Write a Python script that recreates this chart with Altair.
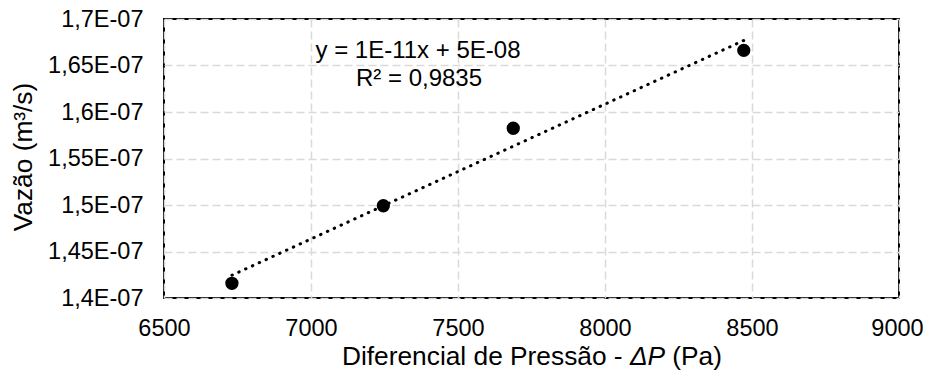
import altair as alt
import pandas as pd

# Data
pressao = [6731, 7246, 7688, 8472]              # ΔP (Pa)
vazao = [1.4158e-07, 1.4992e-07, 1.5825e-07, 1.6663e-07]  # m³/s

x_ticks = [6500, 7000, 7500, 8000, 8500, 9000]
y_ticks = [1.40e-07, 1.45e-07, 1.50e-07, 1.55e-07, 1.60e-07, 1.65e-07, 1.70e-07]
y_tick_labels = ["1,4E-07", "1,45E-07", "1,5E-07", "1,55E-07", "1,6E-07", "1,65E-07", "1,7E-07"]

eq_text = ["y = 1E-11x + 5E-08", "R² = 0,9835"]
x_title_parts = ["Diferencial de Pressão -", "ΔP", "(Pa)"]
y_title = "Vazão (m³/s)"

df = pd.DataFrame({"x": pressao, "y": vazao})

FONT = "Liberation Sans"
TICK_FS = 23.5
TITLE_FS = 26.3

label_expr = " : ".join(
    [f"abs(datum.value - {v}) < 1e-12 ? '{l}'" for v, l in zip(y_ticks, y_tick_labels)]
) + " : ''"

xscale = alt.Scale(domain=[6500, 9000], nice=False, zero=False)
yscale = alt.Scale(domain=[1.4e-07, 1.7e-07], nice=False, zero=False)

xaxis = alt.Axis(
    values=x_ticks, title=None, format="d",
    labelFontSize=TICK_FS, labelFont=FONT, labelColor="black",
    labelBaseline="alphabetic", labelPadding=37, ticks=False, tickSize=0, domain=False,
    labelOffset={"condition": {"test": "datum.value == 9000", "value": -2}, "value": 0},
    grid=True, gridColor="#d9d9d9", gridDash=[8, 4], gridWidth=1.5,
    labelFlush=False, labelOverlap=False,
)
yaxis = alt.Axis(
    values=y_ticks, title=y_title, labelExpr=label_expr,
    titleFontSize=TITLE_FS, titleFontWeight="normal", titleFont=FONT, titleColor="black",
    titleX=-141, titleY=137.5, titleAngle=-90, titleAlign="center", titleBaseline="middle",
    titleAnchor="start",
    labelFontSize=TICK_FS, labelFont=FONT, labelColor="black", labelBaseline="middle",
    labelPadding=21, ticks=False, tickSize=0, domain=False,
    grid=True, gridColor="#d9d9d9", gridDash=[8, 4], gridWidth=1.5,
    labelFlush=False, labelOverlap=False,
)

base = alt.Chart(df)

points = base.mark_circle(size=177, color="black", opacity=1).encode(
    x=alt.X("x:Q", scale=xscale, axis=xaxis),
    y=alt.Y("y:Q", scale=yscale, axis=yaxis),
)

trend = base.transform_regression("x", "y").mark_line(
    color="black", strokeWidth=3, strokeCap="round", strokeDash=[0.5, 7]
).encode(
    x=alt.X("x:Q", scale=xscale),
    y=alt.Y("y:Q", scale=yscale),
)

eq_df = pd.DataFrame({"t": eq_text, "row": [0, 1]})
eq1 = alt.Chart(eq_df).transform_filter("datum.row == 0").mark_text(
    font=FONT, fontSize=24, color="black", align="center", baseline="alphabetic"
).encode(text="t:N", x=alt.value(254), y=alt.value(39.3))
eq2 = alt.Chart(eq_df).transform_filter("datum.row == 1").mark_text(
    font=FONT, fontSize=24, color="black", align="center", baseline="alphabetic"
).encode(text="t:N", x=alt.value(255), y=alt.value(67))

# x-axis title built from three parts so that ΔP can be italic
xt_df = pd.DataFrame({"t": x_title_parts, "row": [0, 1, 2]})
XT_Y = 345.5
xt1 = alt.Chart(xt_df).transform_filter("datum.row == 0").mark_text(
    font=FONT, fontSize=TITLE_FS, color="black", align="right", baseline="alphabetic"
).encode(text="t:N", x=alt.value(458.6), y=alt.value(XT_Y))
xt2 = alt.Chart(xt_df).transform_filter("datum.row == 1").mark_text(
    font=FONT, fontSize=TITLE_FS, fontStyle="italic", color="black", align="left",
    baseline="alphabetic"
).encode(text="t:N", x=alt.value(465.9), y=alt.value(XT_Y))
xt3 = alt.Chart(xt_df).transform_filter("datum.row == 2").mark_text(
    font=FONT, fontSize=TITLE_FS, color="black", align="left", baseline="alphabetic"
).encode(text="t:N", x=alt.value(508.3), y=alt.value(XT_Y))

chart = alt.layer(trend, points, eq1, eq2, xt1, xt2, xt3).properties(
    width=735, height=279,
    autosize=alt.AutoSizeParams(type="none"),
    padding={"left": 156, "top": 11, "right": 24, "bottom": 72},
    background="white",
).configure_view(stroke="black", strokeWidth=2)

chart.save("out.html", embed_options={"renderer": "svg", "actions": False})
